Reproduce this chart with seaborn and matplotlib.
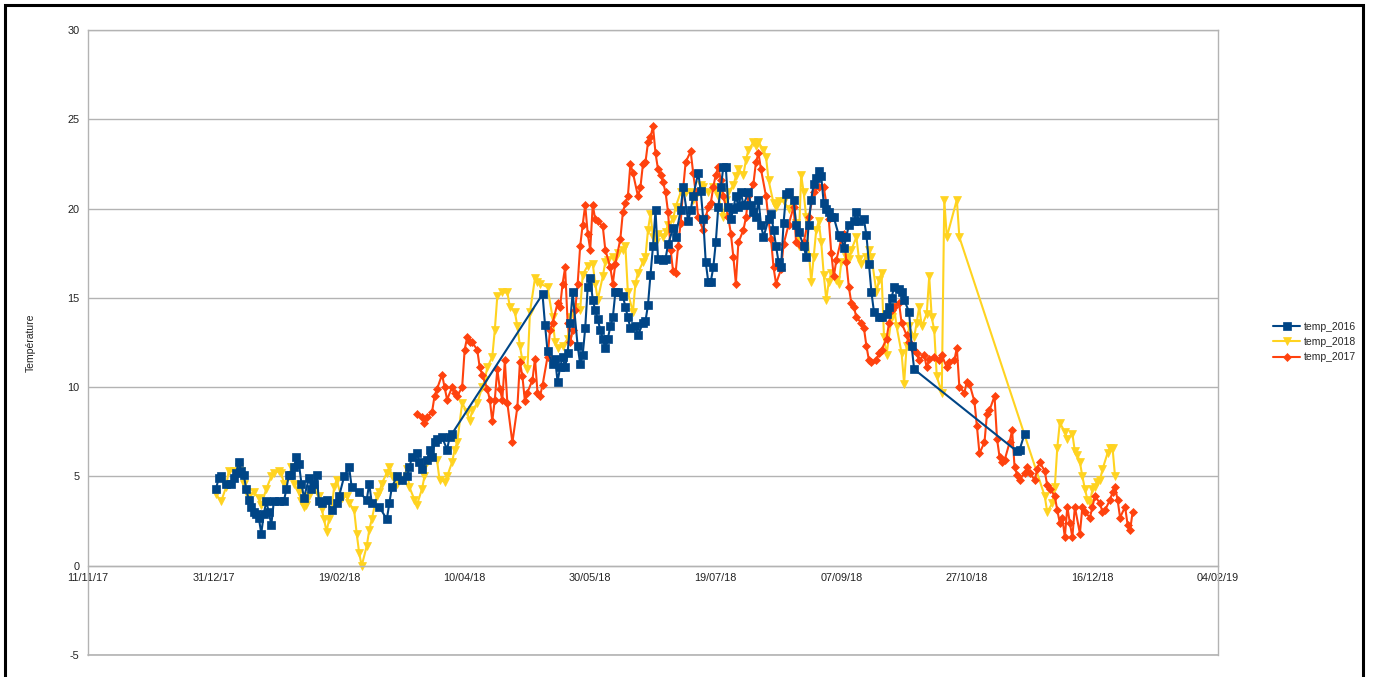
import pandas as pd
import matplotlib
matplotlib.use("Agg")
import matplotlib.pyplot as plt
import matplotlib.dates as mdates
from matplotlib.patches import Rectangle
import seaborn as sns

# Day numbers count from 31/12/17 (1 = 01/01/18).
days_2016 = [
    1, 2, 3, 5, 7, 8, 9, 10, 11, 12,
    13, 14, 15, 16, 17, 18, 19, 20, 21, 22,
    23, 24, 26, 28, 29, 30, 31, 32, 33, 34,
    35, 36, 38, 39, 40, 41, 42, 43, 45, 47,
    49, 50, 52, 54, 55, 58, 61, 62, 63, 66,
    69, 70, 71, 73, 75, 77, 78, 79, 81, 82,
    83, 85, 86, 87, 88, 89, 91, 93, 94, 95,
    131, 132, 133, 135, 136, 137, 138, 139, 140, 141,
    142, 143, 145, 146, 147, 148, 149, 150, 151, 152,
    153, 154, 155, 156, 157, 158, 159, 160, 161, 163,
    164, 165, 166, 168, 169, 171, 172, 173, 174, 175,
    176, 177, 179, 180, 181, 183, 184, 186, 187, 189,
    190, 191, 193, 194, 195, 196, 197, 198, 199, 200,
    201, 202, 203, 204, 205, 206, 207, 208, 209, 210,
    211, 213, 214, 215, 216, 217, 218, 219, 221, 222,
    223, 224, 225, 226, 227, 228, 229, 231, 232, 233,
    235, 236, 237, 238, 239, 240, 241, 242, 243, 244,
    245, 246, 247, 249, 250, 251, 252, 253, 255, 256,
    257, 259, 260, 261, 262, 263, 265, 266, 268, 269,
    270, 271, 273, 274, 275, 277, 278, 279, 320, 321,
    323,
]
temp_2016 = [
    4.3, 4.9, 5.0, 4.6, 4.6, 4.9, 5.2, 5.8, 5.3, 5.1,
    4.3, 3.7, 3.3, 3.0, 2.9, 2.7, 1.8, 2.9, 3.6, 3.0,
    2.3, 3.6, 3.6, 3.6, 4.3, 5.1, 5.1, 5.5, 6.1, 5.7,
    4.6, 3.8, 4.9, 4.3, 4.6, 5.1, 3.6, 3.5, 3.7, 3.1,
    3.5, 3.9, 5.0, 5.5, 4.4, 4.1, 3.7, 4.6, 3.5, 3.3,
    2.6, 3.5, 4.4, 5.0, 4.8, 5.0, 5.5, 6.1, 6.3, 5.8,
    5.4, 5.9, 6.5, 6.1, 6.9, 7.1, 7.2, 6.5, 7.2, 7.4,
    15.2, 13.5, 12.0, 11.3, 11.6, 10.3, 11.1, 11.7, 11.1, 11.9,
    13.6, 15.3, 12.3, 11.3, 11.8, 13.3, 15.6, 16.1, 14.9, 14.3,
    13.8, 13.2, 12.7, 12.2, 12.7, 13.4, 13.9, 15.3, 15.3, 15.1,
    14.5, 13.9, 13.3, 13.4, 12.9, 13.6, 13.7, 14.6, 16.3, 17.9,
    19.9, 17.2, 17.1, 17.2, 18.0, 18.9, 18.4, 19.9, 21.2, 19.3,
    19.9, 20.7, 22.0, 21.0, 19.4, 17.0, 15.9, 15.9, 16.7, 18.1,
    20.1, 21.2, 22.3, 22.3, 20.1, 19.4, 20.0, 20.7, 20.1, 20.9,
    20.2, 20.9, 20.2, 19.8, 19.5, 20.5, 19.1, 18.4, 19.4, 19.7,
    18.8, 17.9, 17.0, 16.7, 19.2, 20.8, 20.9, 20.5, 19.1, 18.7,
    17.9, 17.3, 19.1, 20.5, 21.4, 21.7, 22.1, 21.8, 20.3, 20.0,
    19.8, 19.5, 19.5, 18.5, 18.4, 17.8, 18.4, 19.1, 19.3, 19.8,
    19.3, 19.4, 18.5, 16.9, 15.3, 14.2, 13.9, 13.9, 14.1, 14.5,
    15.0, 15.6, 15.5, 15.3, 14.9, 14.2, 12.3, 11.0, 6.4, 6.5,
    7.4,
]

days_2018 = [
    1, 3, 5, 6, 8, 10, 11, 12, 13, 14,
    16, 18, 19, 21, 23, 24, 26, 27, 28, 30,
    31, 32, 34, 35, 36, 37, 38, 40, 42, 43,
    44, 45, 46, 47, 48, 49, 51, 53, 54, 56,
    57, 58, 59, 61, 62, 63, 65, 66, 67, 69,
    70, 71, 73, 75, 77, 78, 80, 81, 83, 84,
    85, 87, 89, 90, 92, 93, 95, 96, 97, 99,
    101, 102, 103, 105, 107, 108, 109, 111, 112, 113,
    115, 117, 118, 120, 121, 122, 123, 125, 126, 128,
    129, 130, 133, 135, 136, 137, 139, 141, 142, 144,
    146, 147, 149, 151, 152, 153, 155, 156, 157, 159,
    160, 161, 163, 164, 165, 167, 168, 169, 171, 172,
    173, 174, 175, 176, 177, 179, 180, 181, 183, 184,
    186, 188, 190, 191, 193, 194, 195, 197, 199, 200,
    201, 203, 204, 205, 207, 208, 209, 211, 212, 213,
    215, 216, 217, 219, 220, 221, 223, 224, 225, 227,
    229, 231, 232, 233, 234, 235, 236, 238, 239, 240,
    241, 242, 243, 244, 245, 246, 248, 249, 250, 252,
    253, 254, 256, 257, 258, 260, 261, 262, 264, 265,
    266, 267, 268, 270, 271, 272, 274, 275, 276, 277,
    279, 280, 281, 282, 284, 285, 286, 287, 288, 290,
    291, 292, 296, 297, 331, 332, 334, 335, 336, 337,
    339, 340, 342, 343, 344, 345, 346, 347, 348, 349,
    350, 351, 352, 353, 354, 356, 357, 358, 359,
]
temp_2018 = [
    4.0, 3.6, 4.4, 5.3, 5.3, 5.5, 5.3, 4.6, 4.1, 3.9,
    4.1, 3.8, 3.4, 4.3, 5.0, 5.2, 5.3, 5.2, 4.6, 5.0,
    5.5, 4.6, 4.1, 3.6, 3.3, 3.4, 3.9, 4.3, 3.9, 3.2,
    2.6, 1.9, 2.6, 3.1, 4.4, 4.8, 3.8, 3.9, 3.5, 3.1,
    1.8, 0.7, 0.0, 1.1, 2.0, 2.6, 3.9, 4.1, 4.6, 5.2,
    5.5, 5.0, 4.6, 4.8, 5.4, 4.4, 3.7, 3.4, 4.3, 5.0,
    5.8, 6.1, 5.9, 4.8, 4.7, 5.0, 5.8, 6.5, 6.9, 9.1,
    8.6, 8.1, 8.7, 9.1, 10.0, 10.4, 11.1, 11.7, 13.2, 15.1,
    15.3, 15.3, 14.5, 14.2, 13.4, 12.3, 11.5, 11.0, 14.2, 16.1,
    15.9, 15.8, 15.6, 13.9, 12.5, 12.2, 12.3, 12.7, 13.9, 14.5,
    14.3, 16.3, 16.8, 16.9, 15.8, 14.9, 16.2, 17.0, 17.1, 17.3,
    17.2, 17.5, 17.7, 17.9, 15.3, 14.2, 15.8, 16.4, 17.0, 17.3,
    18.8, 19.7, 18.4, 18.1, 18.6, 18.4, 18.7, 19.1, 19.4, 20.1,
    20.9, 20.9, 20.9, 20.5, 20.9, 21.3, 21.2, 20.9, 21.2, 21.0,
    20.7, 19.5, 20.5, 20.9, 21.3, 21.8, 22.2, 21.9, 22.7, 23.3,
    23.7, 23.5, 23.7, 23.3, 22.9, 21.6, 20.3, 20.1, 20.4, 20.4,
    20.0, 20.5, 19.2, 17.9, 21.9, 20.9, 19.5, 15.9, 17.3, 18.8,
    19.3, 18.1, 16.3, 14.9, 15.9, 16.4, 16.0, 15.8, 17.0, 17.3,
    17.2, 17.7, 18.4, 17.2, 16.9, 17.3, 17.7, 17.3, 15.3, 16.0,
    16.4, 12.8, 11.8, 13.9, 14.5, 13.4, 11.9, 10.2, 12.3, 13.4,
    12.8, 13.6, 14.5, 13.4, 14.1, 16.2, 13.9, 13.2, 10.6, 9.7,
    20.5, 18.4, 20.5, 18.4, 3.9, 3.0, 3.5, 4.4, 6.6, 8.0,
    7.5, 7.1, 7.4, 6.4, 6.2, 5.8, 5.0, 4.3, 3.7, 3.5,
    4.3, 4.4, 4.7, 4.8, 5.4, 6.3, 6.6, 6.6, 5.0,
]

days_2017 = [
    81, 83, 84, 85, 87, 88, 89, 91, 92, 93,
    95, 96, 97, 99, 100, 101, 102, 103, 105, 106,
    107, 109, 110, 111, 112, 113, 114, 115, 116, 117,
    119, 121, 122, 123, 124, 125, 127, 128, 129, 130,
    131, 133, 134, 135, 137, 138, 139, 140, 141, 142,
    143, 144, 145, 146, 147, 148, 149, 150, 151, 152,
    153, 155, 156, 158, 159, 160, 162, 163, 164, 165,
    166, 167, 169, 170, 171, 172, 173, 174, 175, 176,
    177, 178, 179, 180, 181, 182, 183, 184, 185, 186,
    187, 188, 190, 191, 192, 193, 195, 196, 197, 198,
    199, 200, 201, 202, 203, 205, 206, 207, 208, 209,
    211, 212, 213, 215, 216, 217, 218, 220, 221, 222,
    223, 224, 226, 227, 229, 231, 232, 234, 235, 237,
    239, 241, 243, 245, 246, 247, 248, 250, 251, 252,
    253, 254, 255, 256, 258, 259, 260, 261, 262, 264,
    265, 266, 268, 269, 270, 271, 273, 274, 276, 277,
    279, 280, 281, 283, 284, 285, 287, 289, 290, 292,
    293, 295, 296, 297, 299, 300, 301, 303, 304, 305,
    307, 308, 309, 311, 312, 313, 314, 315, 317, 318,
    319, 320, 321, 323, 324, 325, 327, 328, 329, 331,
    332, 333, 335, 336, 337, 338, 339, 340, 341, 342,
    343, 345, 346, 347, 349, 350, 351, 353, 354, 355,
    357, 358, 359, 360, 361, 363, 364, 365, 366,
]
temp_2017 = [
    8.5, 8.3, 8.0, 8.3, 8.6, 9.5, 9.9, 10.7, 10.0, 9.3,
    10.0, 9.7, 9.5, 10.0, 12.1, 12.8, 12.5, 12.5, 12.1, 11.1,
    10.7, 9.9, 9.3, 8.1, 9.3, 11.0, 9.9, 9.3, 11.5, 9.1,
    6.9, 8.9, 11.4, 10.6, 9.2, 9.7, 10.4, 11.6, 9.7, 9.5,
    10.1, 11.7, 13.2, 13.6, 14.7, 14.5, 15.8, 16.7, 13.6, 12.5,
    13.2, 14.3, 15.8, 17.9, 19.1, 20.2, 18.6, 17.7, 20.2, 19.4,
    19.3, 19.0, 17.7, 16.7, 15.8, 16.9, 18.3, 19.8, 20.3, 20.7,
    22.5, 22.0, 20.7, 21.2, 22.5, 22.6, 23.7, 24.0, 24.6, 23.1,
    22.2, 21.9, 21.5, 20.9, 19.8, 17.7, 16.5, 16.4, 17.9, 19.2,
    21.1, 22.6, 23.2, 22.0, 20.9, 19.5, 18.8, 19.5, 20.1, 20.3,
    21.2, 21.9, 22.3, 21.6, 20.7, 19.5, 18.6, 17.3, 15.8, 18.1,
    18.8, 19.5, 20.7, 21.4, 22.6, 23.1, 22.2, 20.7, 19.4, 18.3,
    16.7, 15.8, 16.6, 18.0, 19.1, 20.1, 18.1, 17.9, 18.1, 19.5,
    20.9, 21.2, 21.2, 19.4, 17.5, 16.2, 17.1, 18.3, 18.6, 17.0,
    15.6, 14.7, 14.5, 13.9, 13.6, 13.3, 12.3, 11.5, 11.4, 11.5,
    11.9, 12.1, 12.7, 13.6, 14.3, 14.5, 14.7, 13.6, 12.9, 12.5,
    12.1, 11.9, 11.5, 11.8, 11.1, 11.6, 11.7, 11.5, 11.8, 11.1,
    11.4, 11.5, 12.2, 10.0, 9.7, 10.3, 10.2, 9.2, 7.8, 6.3,
    6.9, 8.5, 8.7, 9.5, 7.1, 6.1, 5.8, 5.9, 6.9, 7.6,
    5.5, 5.1, 4.8, 5.2, 5.5, 5.2, 4.8, 5.4, 5.8, 5.3,
    4.5, 4.3, 3.9, 3.1, 2.4, 2.7, 1.6, 3.3, 2.4, 1.6,
    3.3, 1.8, 3.3, 3.0, 2.7, 3.3, 3.9, 3.5, 3.0, 3.1,
    3.7, 4.1, 4.4, 3.7, 2.7, 3.3, 2.3, 2.0, 3.0,
]

legend_order = ["temp_2016", "temp_2018", "temp_2017"]
draw_order = ["temp_2018", "temp_2017", "temp_2016"]
colors = {"temp_2016": "#004586", "temp_2018": "#ffd320", "temp_2017": "#ff420e"}
markers = {"temp_2016": "s", "temp_2018": "v", "temp_2017": "D"}
marker_sizes = {"temp_2016": 5.5, "temp_2018": 6.0, "temp_2017": 4.3}

origin = pd.Timestamp("2017-12-31")
frames = []
for name, d, t in [("temp_2016", days_2016, temp_2016),
                   ("temp_2018", days_2018, temp_2018),
                   ("temp_2017", days_2017, temp_2017)]:
    frames.append(pd.DataFrame({
        "date": origin + pd.to_timedelta(d, unit="D"),
        "temp": t,
        "series": name,
    }))
df = pd.concat(frames, ignore_index=True)

sns.set_theme(style="white")
plt.rcParams["font.family"] = ["Liberation Sans", "DejaVu Sans"]
plt.rcParams["axes.unicode_minus"] = False

W, H = 1373, 677
fig = plt.figure(figsize=(W / 100, H / 100), dpi=100)
ax = fig.add_axes([88 / W, 1 - 655 / H, 1130 / W, 625 / H])

for name in draw_order:
    sns.lineplot(
        data=df[df["series"] == name], x="date", y="temp", ax=ax,
        color=colors[name], marker=markers[name], markersize=marker_sizes[name],
        markeredgecolor=colors[name], markeredgewidth=0.5,
        linewidth=1.5, label=name, estimator=None,
    )

grey = "#b3b3b3"
ax.set_xlim(pd.Timestamp("2017-11-11"), pd.Timestamp("2019-02-04"))
ax.set_xticks(pd.date_range("2017-11-11", "2019-02-04", freq="50D"))
ax.xaxis.set_major_formatter(mdates.DateFormatter("%d/%m/%y"))
ax.set_ylim(-5, 30)
ax.set_yticks(range(-5, 31, 5))
ax.set_axisbelow(True)
ax.grid(axis="y", color=grey, linewidth=1)
ax.axhline(-5, color=grey, linewidth=1.2, clip_on=False, zorder=0)
for side in ["left", "right", "top", "bottom"]:
    ax.spines[side].set_visible(True)
    ax.spines[side].set_color(grey)
    ax.spines[side].set_linewidth(1)
ax.spines["bottom"].set_position(("data", 0))
ax.tick_params(axis="x", direction="inout", length=5, color=grey, width=1,
               labelsize=7.8, pad=3, labelcolor="#222222")
ax.tick_params(axis="y", direction="out", length=4, color=grey, width=1,
               labelsize=7.8, pad=2, labelcolor="#222222")
ax.set_xlabel("")
ax.set_ylabel("Température", fontsize=7.5, color="#222222")
ax.yaxis.set_label_coords(-0.046, 0.5)

handles, labels = ax.get_legend_handles_labels()
lookup = dict(zip(labels, handles))
ax.legend([lookup[n] for n in legend_order], legend_order,
          loc="center left", bbox_to_anchor=(1268 / W, 1 - 342 / H),
          bbox_transform=fig.transFigure, frameon=False, fontsize=7.5,
          handlelength=2.6, handletextpad=0.3, labelspacing=0.5, borderpad=0)

fig.patches.append(Rectangle((5 / W, -0.05), 1358 / W, 1.05 - 5 / H,
                             transform=fig.transFigure, fill=False,
                             edgecolor="black", linewidth=2.2, zorder=10))

fig.savefig("out.png", dpi=100)
